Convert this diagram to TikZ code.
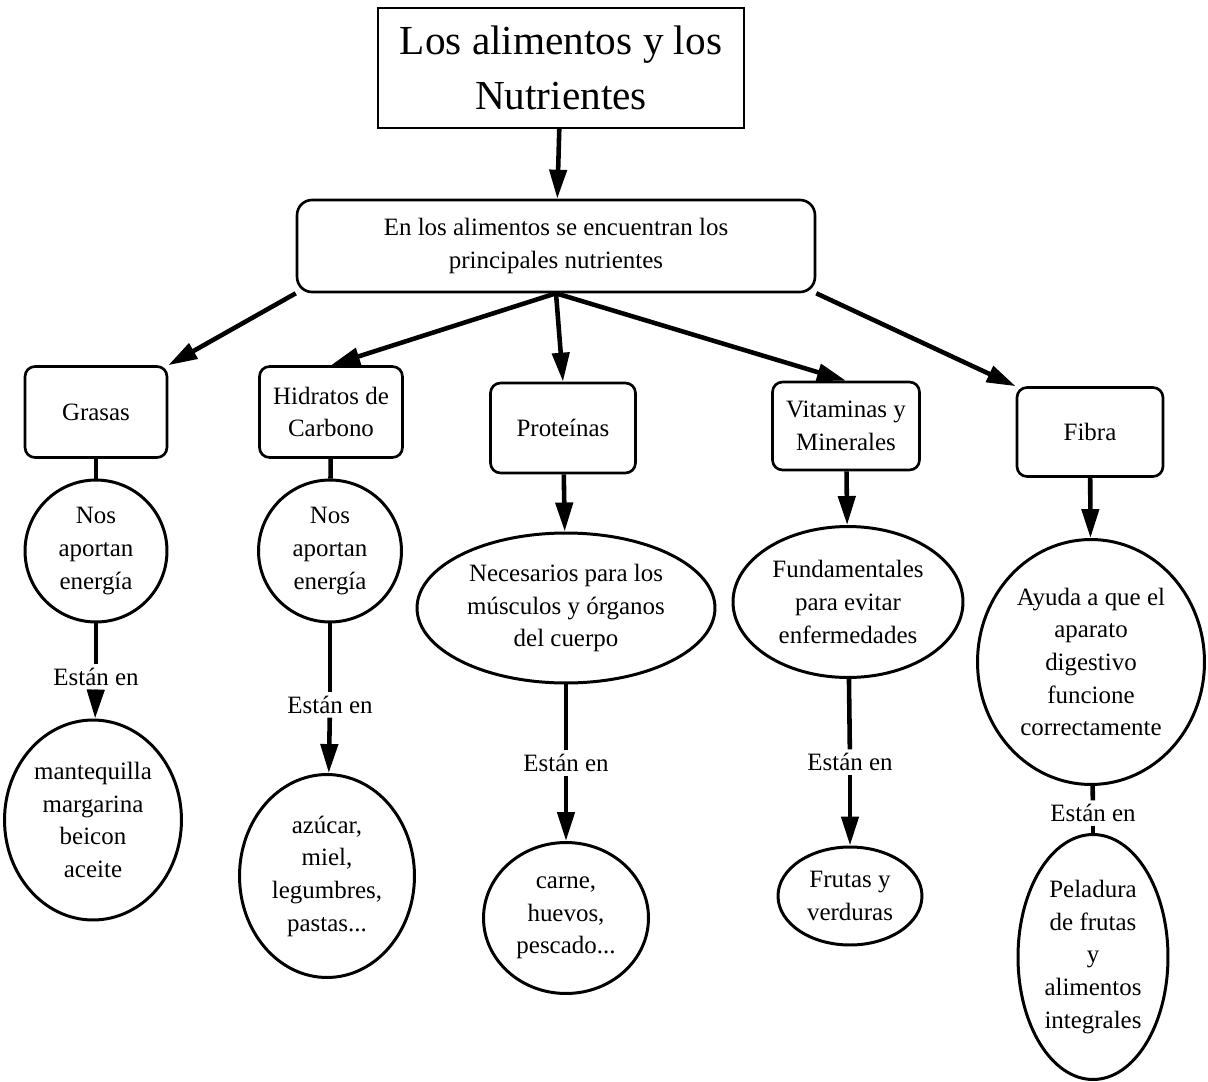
\documentclass[tikz,border=0pt]{standalone}
\usepackage{fontspec}
\setmainfont{Liberation Serif}
\usetikzlibrary{arrows.meta, positioning, shapes.geometric}

\begin{document}
\begin{tikzpicture}[x=0.02cm, y=-0.02cm,
  every node/.style={font=\fontsize{14.2}{18.6}\selectfont, align=center},
  topic/.style={draw, line width=1.5pt, rounded corners=0.2cm, inner sep=0pt},
  bubble/.style={draw, ellipse, line width=1.7pt, inner sep=0pt},
  estan/.style={inner sep=2pt},
  link/.style={line width=2.6pt},
  arr/.style={line width=2.6pt, -{Triangle[length=0.58cm, width=0.34cm]}}]
\useasboundingbox (0,0) rectangle (1208,1082);
% top of the map
\node[draw, line width=1.3pt, minimum width=7.32cm, minimum height=2.4cm,
      font=\fontsize{23.5}{31.3}\selectfont] (title) at (561,68) {Los alimentos y los\\Nutrientes};
\node[topic, rounded corners=0.3cm, minimum width=10.36cm, minimum height=1.84cm]
      (main) at (556,246) {En los alimentos se encuentran los\\principales nutrientes};
% nutrients
\node[topic, minimum width=2.84cm, minimum height=1.82cm] (grasas) at (96,412) {Grasas};
\node[topic, minimum width=2.86cm, minimum height=1.82cm] (hidratos) at (331,412) {Hidratos de\\Carbono};
\node[topic, minimum width=2.9cm, minimum height=1.8cm] (proteinas) at (563,428) {Proteínas};
\node[topic, minimum width=2.94cm, minimum height=1.76cm] (vitaminas) at (846,426) {Vitaminas y\\Minerales};
\node[topic, minimum width=2.92cm, minimum height=1.78cm] (fibra) at (1090,432) {Fibra};
% what they do
\node[bubble, minimum width=2.84cm, minimum height=2.84cm] (grasasE) at (96,551) {Nos\\aportan\\energía};
\node[bubble, minimum width=2.86cm, minimum height=2.84cm] (hidratosE) at (330,551) {Nos\\aportan\\energía};
\node[bubble, minimum width=5.96cm, minimum height=3.0cm] (protE) at (566,608) {Necesarios para los\\músculos y órganos\\del cuerpo};
\node[bubble, minimum width=4.6cm, minimum height=3.02cm] (vitE) at (848,602) {Fundamentales\\para evitar\\enfermedades};
\node[bubble, minimum width=4.54cm, minimum height=4.9cm] (fibraE) at (1091,662) {Ayuda a que el\\aparato\\digestivo\\funcione\\correctamente};
% where they are
\foreach \n/\x/\y in {G/96/677, H/330/705, P/566/763, V/850/762, F/1093/813}{
  \node[estan] (estan\n) at (\x,\y) {Están en};
}
\node[bubble, minimum width=3.54cm, minimum height=4.0cm] (grasasF) at (93,820) {mantequilla\\margarina\\beicon\\aceite};
\node[bubble, minimum width=3.5cm, minimum height=4.06cm] (hidratosF) at (327,876) {azúcar,\\miel,\\legumbres,\\pastas...};
\node[bubble, minimum width=3.3cm, minimum height=3.02cm] (protF) at (566,918) {carne,\\huevos,\\pescado...};
\node[bubble, minimum width=2.88cm, minimum height=1.96cm] (vitF) at (850,896) {Frutas y\\verduras};
\node[bubble, minimum width=3.0cm, minimum height=4.9cm] (fibraF) at (1093,957) {Peladura\\de frutas\\y\\alimentos\\integrales};
% connectors
\draw[arr] (title) -- (main);
\draw[arr] (main.south west) -- (grasas.north east);
\foreach \b in {hidratos, proteinas, vitaminas}{
  \draw[arr] (main.south) -- (\b.north);
}
\draw[arr] (main.south east) -- (fibra.north west);
\draw[link] (grasas) -- (grasasE);
\draw[link] (hidratos) -- (hidratosE);
\draw[arr] (proteinas) -- (protE);
\draw[arr] (vitaminas) -- (vitE);
\draw[arr] (fibra) -- (fibraE);
\foreach \a/\n/\b in {grasasE/G/grasasF, hidratosE/H/hidratosF, protE/P/protF, vitE/V/vitF}{
  \draw[link] (\a) -- (estan\n);
  \draw[arr] (estan\n) -- (\b);
}
\draw[link] (fibraE) -- (estanF);
\draw[link] (estanF) -- (fibraF);
\end{tikzpicture}
\end{document}
